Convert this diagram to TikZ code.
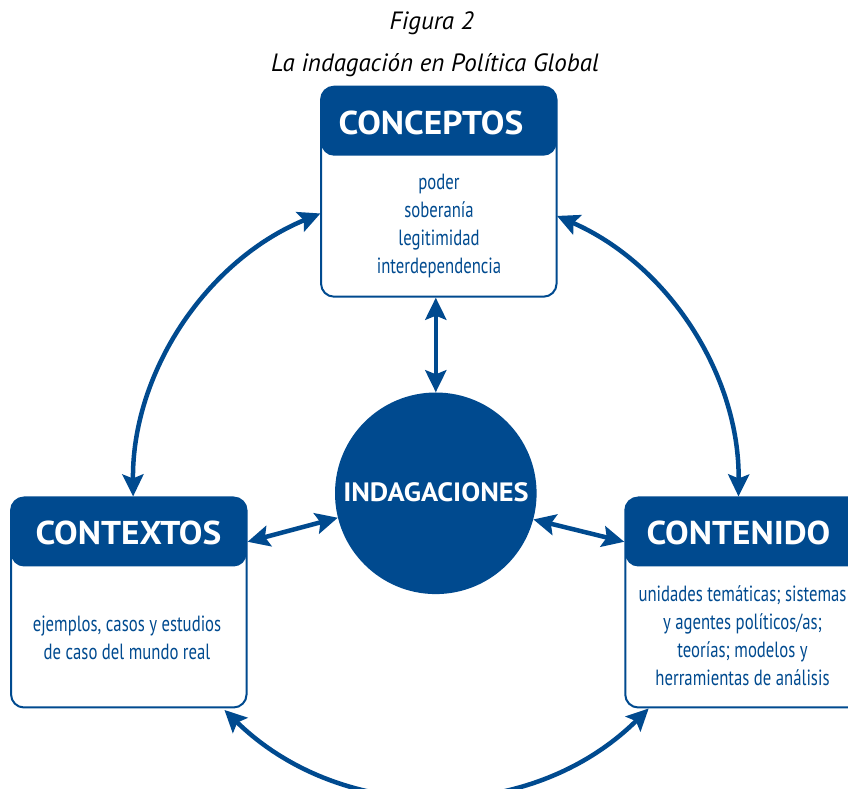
\documentclass[tikz,border=0pt]{standalone}
\usepackage{fontspec}
\setmainfont{PT Sans}
\newfontfamily\condfont{PT Sans}[FakeStretch=0.76]
\newfontfamily\widefont{PT Sans}[FakeStretch=1.07]
\usetikzlibrary{arrows.meta,calc}
\definecolor{cblue}{HTML}{004A8F}
\tikzset{
  card/.style={draw=cblue, line width=2pt, rounded corners=13pt, minimum width=235.5pt, minimum height=210pt, inner sep=0pt,
    path picture={\fill[cblue] (path picture bounding box.north west) rectangle ([yshift=-69pt]path picture bounding box.north east);}},
  cardtitle/.style={text=white, font=\widefont\fontsize{33}{36}\selectfont\bfseries, inner sep=0pt, anchor=base},
  cardbody/.style={text=cblue, font=\condfont\fontsize{22}{28.2}\selectfont, align=center, inner sep=0pt},
  hub/.style={circle, fill=cblue, minimum size=201.6pt, inner sep=0pt},
  hubtitle/.style={text=white, font=\widefont\fontsize{26.5}{28}\selectfont\bfseries, inner sep=0pt, anchor=base},
  link/.style={draw=cblue, line width=4.5pt, {Stealth[length=22pt,width=21pt,inset=4pt]}-{Stealth[length=22pt,width=21pt,inset=4pt]}},
  captxt/.style={font=\fontsize{25}{28}\selectfont\itshape, text=black, inner sep=0pt, anchor=base}
}
\begin{document}
\begin{tikzpicture}[x=1pt,y=1pt]
\path[use as bounding box] (0,0) rectangle (848,789);
\clip (0,0) rectangle (848,789);
% captions
\node[captxt] (cap1) at (431.7,759) {Figura 2};
\node[captxt] (cap2) at (435,717) {La indagación en Política Global};
% cards
\node[card] (conc) at (438.8,597.3) {};
\node[card] (ctx) at (128.8,186.5) {};
\node[card] (cont) at (743,186.5) {};
\node[cardtitle] (concT) at (431,654) {CONCEPTOS};
\node[cardtitle] (ctxT) at (128.5,244) {CONTEXTOS};
\node[cardtitle] (contT) at (738.5,244) {CONTENIDO};
\node[cardbody] (concB) at (439,563) {poder\\soberanía\\legitimidad\\interdependencia};
\node[cardbody] (ctxB) at (127,151) {ejemplos, casos y estudios\\de caso del mundo real};
\node[cardbody] (contB) at (742.5,153.2) {unidades temáticas; sistemas\\y agentes políticos/as;\\teorías; modelos y\\herramientas de análisis};
% hub
\node[hub] (circ) at (435.8,295.7) {};
\node[hubtitle] (circT) at (436,287.3) {INDAGACIONES};
% connectors
\draw[link] (circ.north |- conc.south) -- (circ.north);
\draw[link] ($(ctx.north east)+(0,-45.3)$) -- (circ.194.4);
\draw[link] (circ.345.2) -- ($(cont.north west)+(0,-45.3)$);
\draw[link] ($(circ.center)+(112.4:302.7)$) arc[start angle=112.4, end angle=180.6, radius=302.7];
\draw[link] ($(circ.center)+(66.4:302.7)$) arc[start angle=66.4, end angle=-0.6, radius=302.7];
\draw[link] ($(circ.center)+(225.7:302.7)$) arc[start angle=225.7, end angle=314.7, radius=302.7];
\end{tikzpicture}
\end{document}
